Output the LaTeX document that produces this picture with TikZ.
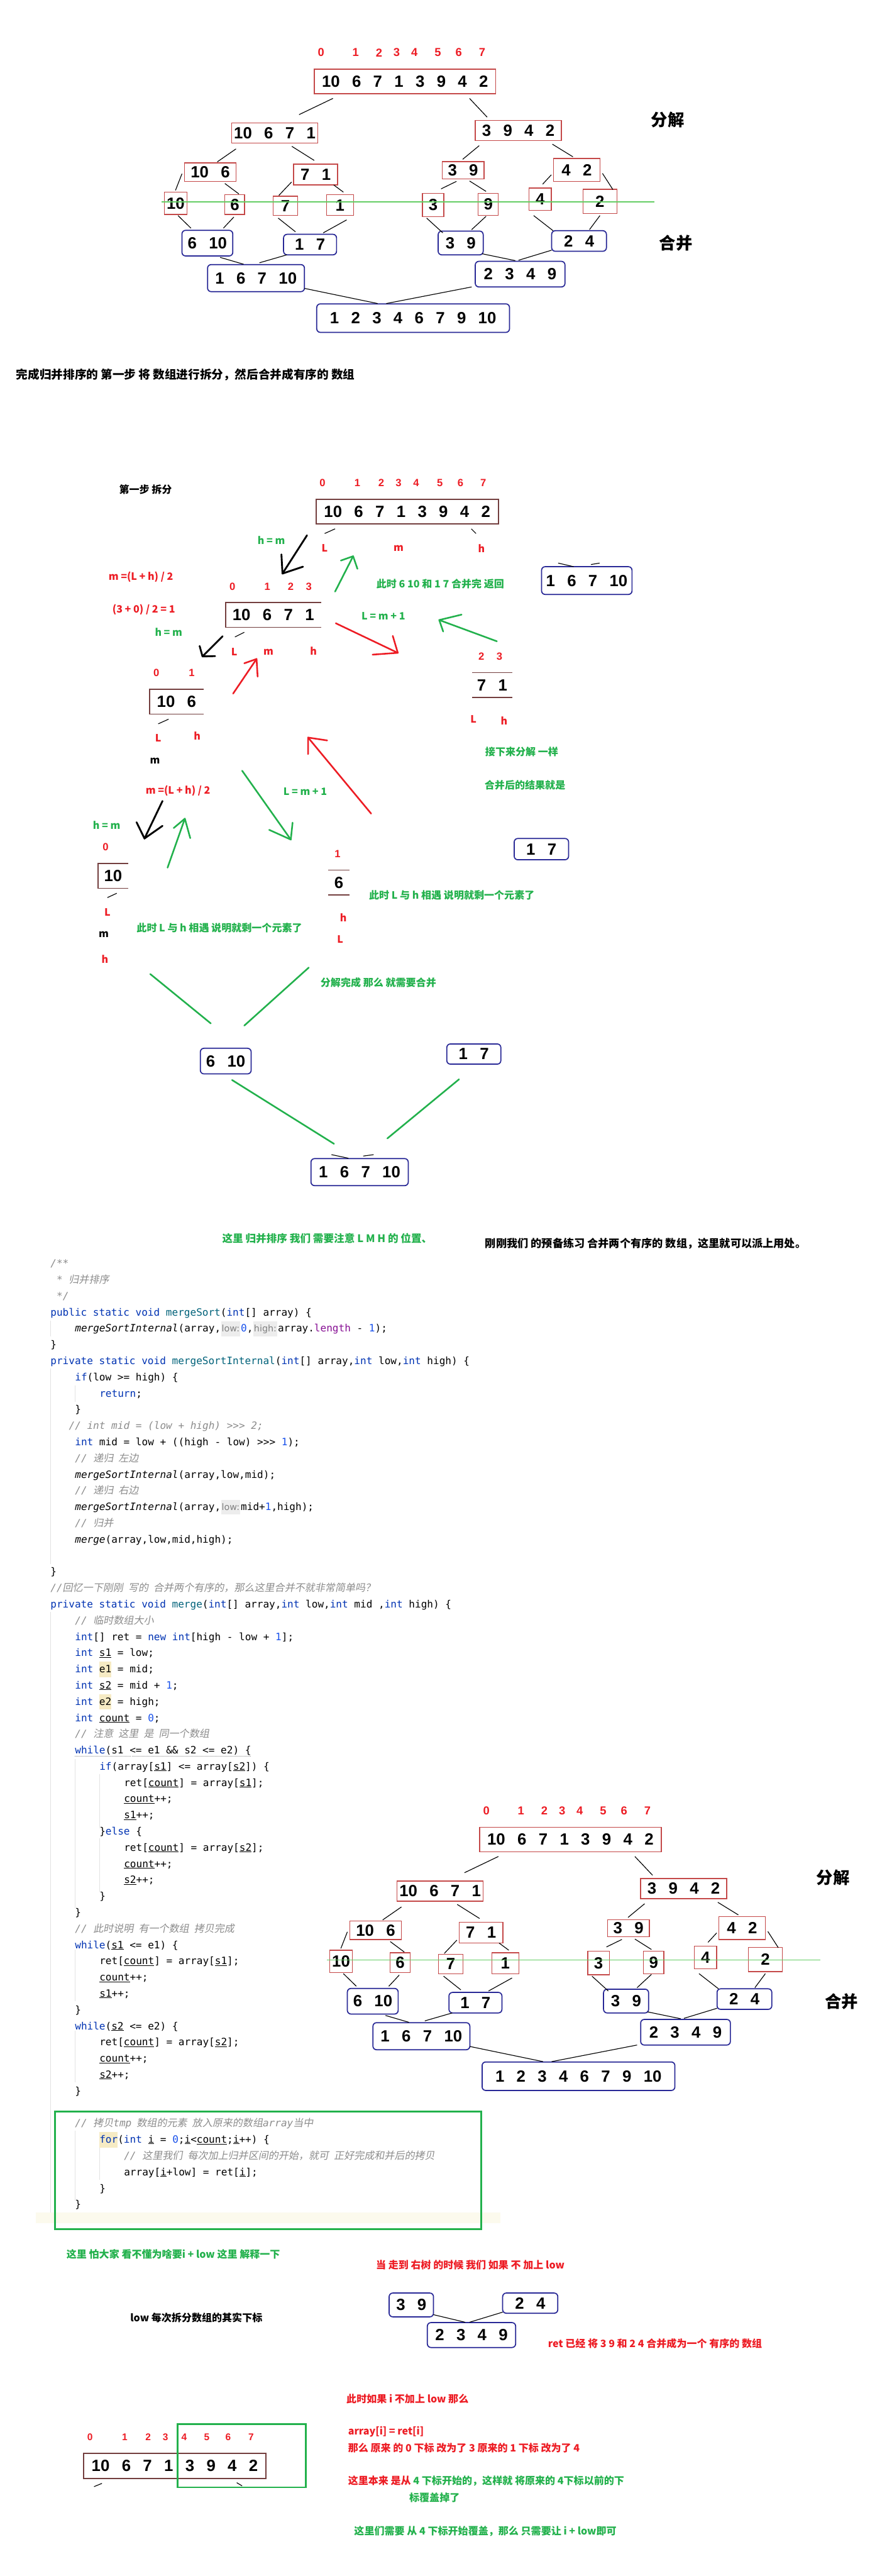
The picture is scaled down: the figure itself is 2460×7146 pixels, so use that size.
\documentclass[tikz,border=0pt]{standalone}
\usepackage{fontspec}
\setmainfont{Liberation Sans}
\setsansfont{Liberation Sans}
\newfontfamily\cjk{Noto Sans CJK SC}
\newfontfamily\cjkit{Noto Sans CJK SC}[FakeSlant=0.18]
\newfontfamily\mono{DejaVu Sans Mono}
\newfontfamily\hintfont{DejaVu Sans}
\usetikzlibrary{calc}
\definecolor{ared}{RGB}{237,28,36}
\definecolor{agreen}{RGB}{34,177,76}
\definecolor{treered}{RGB}{196,72,72}
\definecolor{treeblue}{RGB}{40,40,150}
\definecolor{cutbrown}{RGB}{115,62,62}
\definecolor{tgreen}{RGB}{100,205,100}
\definecolor{kwc}{HTML}{0033B3}
\definecolor{fnc}{HTML}{00627A}
\definecolor{numc}{HTML}{1750EB}
\definecolor{cmc}{HTML}{8C8C8C}
\definecolor{fldc}{HTML}{871094}
\definecolor{hintbg}{HTML}{EDEDED}
\definecolor{hintfg}{HTML}{7F7F7F}
\definecolor{hlc}{RGB}{246,235,196}
\definecolor{guide}{HTML}{E2E2E2}
\definecolor{cream}{HTML}{FCFAED}
\newcommand\Gp{\hspace{0.75em}}
\newcommand\Ann[1]{\cjk\bfseries\fontsize{#1}{#1}\selectfont}
\newcommand\NumF{\sffamily\bfseries\fontsize{45}{50}\selectfont}
\newcommand\IdxF[1]{\sffamily\bfseries\fontsize{#1}{#1}\selectfont}
\newcommand\CodeF{\mono\fontsize{28}{45}\selectfont}
\newcommand\Kw[1]{{\color{kwc}#1}}
\newcommand\Fn[1]{{\color{fnc}#1}}
\newcommand\Nm[1]{{\color{numc}#1}}
\newcommand\Fld[1]{{\color{fldc}#1}}
\newcommand\Ca[1]{{\itshape #1}}
\newcommand\Cm[1]{{\color{cmc}\itshape #1}}
\newcommand\Cj[1]{{\cjkit #1}}
\newcommand\Sp{\hspace{0.5em}}
\newcommand\Hint[1]{\hspace{1pt}{\setlength\fboxsep{1.5pt}\colorbox{hintbg}{\rule[-10pt]{0pt}{38pt}\hintfont\fontsize{25}{30}\selectfont\color{hintfg}#1}}\hspace{2pt}}
\newcommand\Hl[1]{{\setlength\fboxsep{0pt}\colorbox{hlc}{\rule[-12.5pt]{0pt}{43pt}#1}}}
\newcommand\Ul[1]{\underline{#1}}
\newcommand\Cy[1]{\the\numexpr3506+45*#1\relax}
\newcommand\Codeln[3]{\node[codeln] (c#1) at (#2,\Cy{#1}) {#3};}
\newcommand\Cn[4]{\draw[treeline] ([shift={#2}]#1.center) -- ([shift={#4}]#3.center);}
\tikzset{
 sz/.style 2 args={minimum width=#1pt, minimum height=#2pt},
 rbox/.style={draw=treered, line width=2.5pt, fill=white, inner sep=0pt, font=\NumF},
 bbox/.style={draw=treeblue, line width=3pt, rounded corners=10pt, fill=white, inner sep=0pt, font=\NumF},
 cutbox/.style={draw=cutbrown, line width=3pt, fill=white, inner sep=0pt, font=\NumF},
 cutn/.style={inner sep=0pt, font=\NumF},
 cutline/.style={draw=cutbrown, line width=3pt},
 treeline/.style={line width=2pt, black},
 tgline/.style={line width=3pt, tgreen},
 idxT/.style={text=ared, font=\IdxF{32}, inner sep=0pt},
 idxS/.style={text=ared, font=\IdxF{29}, inner sep=0pt},
 annR/.style={text=ared, font=\Ann{28}, inner sep=0pt},
 annG/.style={text=agreen, font=\Ann{28}, inner sep=0pt},
 annK/.style={text=black, font=\Ann{28}, inner sep=0pt},
 bigK/.style={text=black, font=\Ann{46}, inner sep=0pt},
 arrK/.style={line width=5pt, black, line cap=round, line join=round},
 arrR/.style={line width=4.5pt, ared, line cap=round, line join=round},
 arrG/.style={line width=4.5pt, agreen, line cap=round, line join=round},
 tick/.style={line width=2pt, black},
 codeln/.style={anchor=west, inner sep=0pt, font=\CodeF, execute at begin node=\strut},
 gline/.style={line width=1.5pt, guide},
}
\newcommand\mergetree{%
 \foreach \xx/\ii in {891/0,987/1,1052/2,1101/3,1150/4,1215/5,1273/6,1338/7}{\node[idxT] (i\ii) at (\xx,146) {\ii};}
 \node[rbox, sz={504}{68}] (root) at (1124,226) {10\Gp 6\Gp 7\Gp 1\Gp 3\Gp 9\Gp 4\Gp 2};
 \node[rbox, sz={239}{56}] (n10671) at (762.5,369) {10\Gp 6\Gp 7\Gp 1};
 \node[rbox, sz={239}{56}] (n3942) at (1438.5,362) {3\Gp 9\Gp 4\Gp 2};
 \node[rbox, sz={143}{51}] (n106) at (583.5,477.5) {10\Gp 6};
 \node[rbox, sz={122}{58}] (n71) at (876,484) {7\Gp 1};
 \node[rbox, sz={116}{48}] (n39) at (1285,472) {3\Gp 9};
 \node[rbox, sz={129}{63}] (n42) at (1600.5,471.5) {4\Gp 2};
 \node[rbox, sz={63}{62}] (l10) at (487.5,564) {10};
 \node[rbox, sz={55}{55}] (l6) at (651.5,567.5) {6};
 \node[rbox, sz={68}{54}] (l7) at (792,571) {7};
 \node[rbox, sz={75}{58}] (l1) at (943.5,569) {1};
 \node[rbox, sz={60}{65}] (l3) at (1202,568.5) {3};
 \node[rbox, sz={56}{62}] (l9) at (1355,567) {9};
 \node[rbox, sz={62}{62}] (l4) at (1499,553) {4};
 \node[rbox, sz={94}{67}] (l2) at (1665,558.5) {2};
 \node[bbox, sz={141}{71}] (m610) at (575.5,674.5) {6\Gp 10};
 \node[bbox, sz={147}{57}] (m17) at (860.5,678.5) {1\Gp 7};
 \node[bbox, sz={125}{66}] (m39) at (1278.5,674) {3\Gp 9};
 \node[bbox, sz={152}{57}] (m24) at (1607,668.5) {2\Gp 4};
 \node[bbox, sz={269}{75}] (m16710) at (710.5,771.5) {1\Gp 6\Gp 7\Gp 10};
 \node[bbox, sz={249}{71}] (m2349) at (1443.5,760.5) {2\Gp 3\Gp 4\Gp 9};
 \node[bbox, sz={535}{79}] (final) at (1146.5,882.5) {1\Gp 2\Gp 3\Gp 4\Gp 6\Gp 7\Gp 9\Gp 10};
 \node[bigK] (fj) at (1853,332) {分解};
 \node[bigK] (hb) at (1876,675) {合并};
 \Cn{root}{(-200,47)}{n10671}{(67.5,-51)}
 \Cn{root}{(179,47)}{n3942}{(-86.5,-37)}
 \Cn{n10671}{(-107.5,44)}{n106}{(19.5,-28.5)}
 \Cn{n10671}{(47.5,37)}{n71}{(-4,-39)}
 \Cn{n3942}{(-108.5,42)}{n39}{(-1,-30)}
 \Cn{n3942}{(94.5,38)}{n42}{(-10.5,-36.5)}
 \Cn{n106}{(-78.5,4.5)}{l10}{(-0.5,-36)}
 \Cn{n106}{(40.5,31.5)}{l6}{(11.5,-29.5)}
 \Cn{n71}{(-67,21)}{l7}{(-18,-29)}
 \Cn{n71}{(50,29)}{l1}{(9.5,-36)}
 \Cn{n39}{(-18,31)}{l3}{(22,-44.5)}
 \Cn{n39}{(18,30)}{l9}{(-6,-36)}
 \Cn{n42}{(-70.5,13.5)}{l4}{(7,-42)}
 \Cn{n42}{(71.5,9.5)}{l2}{(36,-32.5)}
 \Cn{l10}{(6.5,34)}{m610}{(-45.5,-41.5)}
 \Cn{l6}{(-2.5,34.5)}{m610}{(44.5,-41.5)}
 \Cn{l7}{(-20,34)}{m17}{(-40.5,-35.5)}
 \Cn{l1}{(18.5,41)}{m17}{(36.5,-32.5)}
 \Cn{l3}{(-18,36.5)}{m39}{(-49.5,-28)}
 \Cn{l9}{(-6,33)}{m39}{(30.5,-37)}
 \Cn{l4}{(-18,45)}{m24}{(-72,-28.5)}
 \Cn{l2}{(0,39.5)}{m24}{(29,-31.5)}
 \Cn{m610}{(35.5,39.5)}{m16710}{(-34.5,-38.5)}
 \Cn{m17}{(-64.5,28.5)}{m16710}{(9.5,-42.5)}
 \Cn{m39}{(59.5,30)}{m2349}{(-13.5,-37.5)}
 \Cn{m24}{(-76,25.5)}{m2349}{(-4.5,-38.5)}
 \Cn{m16710}{(134.5,28.5)}{final}{(-98.5,-40.5)}
 \Cn{m2349}{(-134.5,35.5)}{final}{(-74.5,-40.5)}
 \draw[tgline] (449,560) -- (1817,560);
}
\begin{document}
\begin{tikzpicture}[x=1pt,y=-1pt]
\useasboundingbox (0,0) rectangle (2460,7146);
\fill[white] (0,0) rectangle (2460,7146);

% ---------- top tree ----------
\begin{scope}[name prefix=A-]\mergetree\end{scope}
\node[annK, font=\Ann{32.5}] (intro) at (515,1039) {完成归并排序的 第一步 将 数组进行拆分，然后合并成有序的 数组};

% ---------- step one ----------
\node[annK] (step1) at (404,1358) {第一步 拆分};
\foreach \xx/\ii in {895/0,992/1,1058/2,1106/3,1155/4,1221/5,1278/6,1341/7}{\node[idxS] (sa\ii) at (\xx,1340) {\ii};}
\node[cutbox, sz={506}{68}] (s2root) at (1130,1419) {10\Gp 6\Gp 7\Gp 1\Gp 3\Gp 9\Gp 4\Gp 2};
\draw[tick] ([shift={(-200,48)}]s2root.center) -- ([shift={(-229,61)}]s2root.center);
\draw[tick] ([shift={(178,48)}]s2root.center) -- ([shift={(191,61)}]s2root.center);
\node[annG] (hm1) at (753,1499) {h = m};
\node[annR] (L1) at (901,1521) {L};
\node[annR] (m1) at (1106,1521) {m};
\node[annR] (h1) at (1336,1521) {h};
\draw[arrK] (852,1485) -- (784,1591);
\draw[arrK] (781,1538) -- (784,1591) -- (841,1572);
\draw[arrG] (930,1641) -- (980,1543);
\draw[arrG] (946,1555) -- (980,1543) -- (992,1578);
\node[annR] (f1) at (391,1600) {m =(L + h) / 2};
\foreach \xx/\ii in {645/0,742/1,807/2,857/3}{\node[idxS] (sb\ii) at (\xx,1627) {\ii};}
\node[annG] (ret1) at (1222,1619) {此时 6 10 和 1 7 合并完 返回};
\node[bbox, sz={251}{77}] (s2b16710) at (1628.5,1610.5) {1\Gp 6\Gp 7\Gp 10};
\draw[tick] ([shift={(-79.5,-48.5)}]s2b16710.center) -- ([shift={(-36.5,-38.5)}]s2b16710.center);
\draw[tick] ([shift={(11.5,-44.5)}]s2b16710.center) -- ([shift={(35.5,-48.5)}]s2b16710.center);
\node[annR] (f2) at (399,1691) {(3 + 0) / 2 = 1};
\node[cutn, sz={265}{68}] (s2r10671) at (758.5,1706) {10\Gp 6\Gp 7\Gp 1};
\draw[cutline] (s2r10671.north east) -- (s2r10671.north west) -- (s2r10671.south west) -- (s2r10671.south east);
\node[annG] (lm1) at (1064,1709) {L = m + 1};
\draw[arrR] (932,1729) -- (1104,1811);
\draw[arrR] (1090,1764) -- (1104,1811) -- (1034,1816);
\draw[arrG] (1379,1779) -- (1219,1720);
\draw[arrG] (1281,1705) -- (1219,1720) -- (1230,1752);
\node[annG] (hm2) at (468,1753) {h = m};
\draw[tick] ([shift={(-80.5,48)}]s2r10671.center) -- ([shift={(-106.5,61)}]s2r10671.center);
\draw[arrK] (618,1765) -- (562,1821);
\draw[arrK] (554,1792) -- (562,1821) -- (597,1820);
\node[annR] (L2) at (650,1808) {L};
\node[annR] (m2) at (745,1809) {m};
\node[annR] (h2) at (870,1805) {h};
\draw[arrR] (647,1924) -- (712,1828);
\draw[arrR] (678,1840) -- (712,1828) -- (715,1877);
\node[idxS] (sc2) at (1336,1821) {2};
\node[idxS] (sc3) at (1386,1821) {3};
\node[cutn, sz={112}{69}] (s2r71) at (1366,1900.5) {7\Gp 1};
\draw[cutline] (s2r71.north west) -- (s2r71.north east);
\draw[cutline] (s2r71.south west) -- (s2r71.south east);
\node[idxS] (sd0) at (434,1867) {0};
\node[idxS] (sd1) at (532,1867) {1};
\node[cutn, sz={150}{69}] (s2r106) at (490,1946.5) {10\Gp 6};
\draw[cutline] (s2r106.north east) -- (s2r106.north west) -- (s2r106.south west) -- (s2r106.south east);
\draw[tick] ([shift={(-22,48.5)}]s2r106.center) -- ([shift={(-51,61.5)}]s2r106.center);
\node[annR] (L3) at (439,2048) {L};
\node[annR] (h3) at (547,2042) {h};
\node[annK, font=\Ann{28}] (m3) at (430,2111) {m};
\node[annR] (L4) at (1314,1995) {L};
\node[annR] (h4) at (1399,1999) {h};
\draw[arrR] (1030,2257) -- (855,2046);
\draw[arrR] (855,2092) -- (855,2046) -- (908,2054);
\node[annG] (next1) at (1448,2086) {接下来分解 一样};
\node[annG] (next2) at (1457,2178) {合并后的结果就是};
\node[annR] (f3) at (494,2193) {m =(L + h) / 2};
\node[annG] (lm2) at (847,2196) {L = m + 1};
\draw[arrG] (672,2138) -- (807,2329);
\draw[arrG] (747,2302) -- (807,2329) -- (812,2282);
\draw[arrK] (451,2222) -- (401,2326);
\draw[arrK] (379,2281) -- (401,2326) -- (451,2291);
\draw[arrG] (465,2407) -- (513,2271);
\draw[arrG] (482,2297) -- (513,2271) -- (528,2325);
\node[annG] (hm3) at (296,2289) {h = m};
\node[idxS] (se0) at (293,2350) {0};
\node[cutn, sz={84}{69}] (s2r10) at (314,2429.5) {10};
\draw[cutline] (s2r10.north east) -- (s2r10.north west) -- (s2r10.south west) -- (s2r10.south east);
\draw[tick] ([shift={(10,48.5)}]s2r10.center) -- ([shift={(-16,60.5)}]s2r10.center);
\node[annR] (L5) at (298,2530) {L};
\node[annK, font=\Ann{28}] (m5) at (288,2593) {m};
\node[annR] (h5) at (291,2660) {h};
\node[idxS] (sf1) at (937,2369) {1};
\node[cutn, sz={59}{69}] (s2r6) at (940.5,2448.5) {6};
\draw[cutline] (s2r6.north west) -- (s2r6.north east);
\draw[cutline] (s2r6.south west) -- (s2r6.south east);
\node[annG] (meet1) at (1254,2484) {此时 L 与 h 相遇 说明就剩一个元素了};
\node[annR] (h6) at (953,2545) {h};
\node[annR] (L6) at (944,2605) {L};
\node[annG] (meet2) at (609,2574) {此时 L 与 h 相遇 说明就剩一个元素了};
\node[bbox, sz={151}{59}] (s2b17) at (1502.5,2355.5) {1\Gp 7};
\node[annG] (done) at (1050,2726) {分解完成 那么 就需要合并};
\node[bbox, sz={141}{71}] (s2b610) at (626.5,2943.5) {6\Gp 10};
\node[bbox, sz={150}{56}] (s2b17b) at (1315,2924) {1\Gp 7};
\node[bbox, sz={270}{75}] (s2b16710b) at (998,3251.5) {1\Gp 6\Gp 7\Gp 10};
\draw[arrG] ([shift={(103,272.5)}]s2r10.center) -- ([shift={(-41.5,-104.5)}]s2b610.center);
\draw[arrG] ([shift={(-83.5,235.5)}]s2r6.center) -- ([shift={(51.5,-98.5)}]s2b610.center);
\draw[arrG] ([shift={(17.5,52.5)}]s2b610.center) -- ([shift={(-71,-78.5)}]s2b16710b.center);
\draw[arrG] ([shift={(-41,70)}]s2b17b.center) -- ([shift={(77,-93.5)}]s2b16710b.center);
\draw[tick] ([shift={(-78,-48.5)}]s2b16710b.center) -- ([shift={(-31,-38.5)}]s2b16710b.center);
\draw[tick] ([shift={(10,-44.5)}]s2b16710b.center) -- ([shift={(39,-48.5)}]s2b16710b.center);

% ---------- section 3 notes ----------
\node[annG, font=\Ann{29}] (lmhnote) at (908,3435) {这里 归并排序 我们 需要注意 L M H 的 位置、};
\node[annK, font=\Ann{30}] (prevnote) at (1792,3449) {刚刚我们 的预备练习 合并两个有序的 数组，这里就可以派上用处。};

% ---------- code ----------
\fill[cream] (100,6137) rectangle (1388,6168);
\draw[gline] (141,3663) -- (141,3707);
\draw[gline] (141,3797) -- (141,4338);
\draw[gline] (209,3843) -- (209,3888);
\draw[gline] (141,4471) -- (141,6138);
\draw[gline] (209,4880) -- (209,5294);
\draw[gline] (277,4921) -- (277,5071);
\draw[gline] (277,5100) -- (277,5250);
\draw[gline] (209,5409) -- (209,5552);
\draw[gline] (209,5633) -- (209,5776);
\draw[gline] (209,5910) -- (209,6104);
\draw[gline] (277,5954) -- (277,6046);
\Codeln{0}{140}{\Cm{/**}}
\Codeln{1}{157}{\Cm{* \Cj{归并排序}}}
\Codeln{2}{157}{\Cm{*/}}
\Codeln{3}{140}{\Kw{public static void} \Fn{mergeSort}(\Kw{int}[] array) \{}
\Codeln{4}{208}{\Ca{mergeSortInternal}(array,\Hint{low:}\Nm{0},\Hint{high:}array.\Fld{length} - \Nm{1});}
\Codeln{5}{140}{\}}
\Codeln{6}{140}{\Kw{private static void} \Fn{mergeSortInternal}(\Kw{int}[] array,\Kw{int} low,\Kw{int} high) \{}
\Codeln{7}{208}{\Kw{if}(low >= high) \{}
\Codeln{8}{276}{\Kw{return};}
\Codeln{9}{208}{\}}
\Codeln{10}{191}{\Cm{// int mid = (low + high) >>> 2;}}
\Codeln{11}{208}{\Kw{int} mid = low + ((high - low) >>> \Nm{1});}
\Codeln{12}{208}{\Cm{// \Cj{递归\Sp 左边}}}
\Codeln{13}{208}{\Ca{mergeSortInternal}(array,low,mid);}
\Codeln{14}{208}{\Cm{// \Cj{递归\Sp 右边}}}
\Codeln{15}{208}{\Ca{mergeSortInternal}(array,\Hint{low:}mid+\Nm{1},high);}
\Codeln{16}{208}{\Cm{// \Cj{归并}}}
\Codeln{17}{208}{\Ca{merge}(array,low,mid,high);}
\Codeln{19}{140}{\}}
\Codeln{20}{140}{\Cm{//\Cj{回忆一下刚刚\Sp 写的\Sp 合并两个有序的，那么这里合并不就非常简单吗？}}}
\Codeln{21}{140}{\Kw{private static void} \Fn{merge}(\Kw{int}[] array,\Kw{int} low,\Kw{int} mid ,\Kw{int} high) \{}
\Codeln{22}{208}{\Cm{// \Cj{临时数组大小}}}
\Codeln{23}{208}{\Kw{int}[] ret = \Kw{new} \Kw{int}[high - low + \Nm{1}];}
\Codeln{24}{208}{\Kw{int} \Ul{s1} = low;}
\Codeln{25}{208}{\Kw{int} \Hl{e1} = mid;}
\Codeln{26}{208}{\Kw{int} \Ul{s2} = mid + \Nm{1};}
\Codeln{27}{208}{\Kw{int} \Hl{e2} = high;}
\Codeln{28}{208}{\Kw{int} \Ul{count} = \Nm{0};}
\Codeln{29}{208}{\Cm{// \Cj{注意\Sp 这里\Sp 是\Sp 同一个数组}}}
\Codeln{30}{208}{\Kw{while}(s1 <= e1 \&\& s2 <= e2) \{}
\draw[cmc, dotted, line width=1.5pt] (208,4872) -- (698,4872);
\Codeln{31}{276}{\Kw{if}(array[\Ul{s1}] <= array[\Ul{s2}]) \{}
\Codeln{32}{344}{ret[\Ul{count}] = array[\Ul{s1}];}
\Codeln{33}{344}{\Ul{count}++;}
\Codeln{34}{344}{\Ul{s1}++;}
\Codeln{35}{276}{\}\Kw{else} \{}
\Codeln{36}{344}{ret[\Ul{count}] = array[\Ul{s2}];}
\Codeln{37}{344}{\Ul{count}++;}
\Codeln{38}{344}{\Ul{s2}++;}
\Codeln{39}{276}{\}}
\Codeln{40}{208}{\}}
\Codeln{41}{208}{\Cm{// \Cj{此时说明\Sp 有一个数组\Sp 拷贝完成}}}
\Codeln{42}{208}{\Kw{while}(\Ul{s1} <= e1) \{}
\Codeln{43}{276}{ret[\Ul{count}] = array[\Ul{s1}];}
\Codeln{44}{276}{\Ul{count}++;}
\Codeln{45}{276}{\Ul{s1}++;}
\Codeln{46}{208}{\}}
\Codeln{47}{208}{\Kw{while}(\Ul{s2} <= e2) \{}
\Codeln{48}{276}{ret[\Ul{count}] = array[\Ul{s2}];}
\Codeln{49}{276}{\Ul{count}++;}
\Codeln{50}{276}{\Ul{s2}++;}
\Codeln{51}{208}{\}}
\Codeln{53}{208}{\Cm{// \Cj{拷贝}tmp\Sp\Cj{数组的元素\Sp 放入原来的数组}array\Cj{当中}}}
\Codeln{54}{276}{\Hl{\Kw{for}}(\Kw{int} \Ul{i} = \Nm{0};\Ul{i}<\Ul{count};\Ul{i}++) \{}
\Codeln{55}{344}{\Cm{// \Cj{这里我们\Sp 每次加上归并区间的开始，就可\Sp 正好完成和并后的拷贝}}}
\Codeln{56}{344}{array[\Ul{i}+low] = ret[\Ul{i}];}
\Codeln{57}{276}{\}}
\Codeln{58}{208}{\}}
\draw[agreen, line width=5pt] (152,5858) rectangle (1336,6184);

% ---------- second tree ----------
\begin{scope}[shift={(459,4877)}, name prefix=B-]\mergetree\end{scope}

% ---------- explanation of i + low ----------
\node[annG] (why) at (481,6253) {这里 怕大家 看不懂为啥要i + low 这里 解释一下};
\node[annR] (right) at (1305,6283) {当 走到 右树 的时候 我们 如果 不 加上 low};
\node[bbox, sz={123}{66}] (b39) at (1141.5,6394) {3\Gp 9};
\node[bbox, sz={153}{56}] (b24) at (1471.5,6389) {2\Gp 4};
\node[bbox, sz={245}{69}] (b2349) at (1308.5,6477.5) {2\Gp 3\Gp 4\Gp 9};
\Cn{b39}{(61.5,27)}{b2349}{(-17.5,-35.5)}
\Cn{b24}{(-76.5,25)}{b2349}{(-5.5,-35.5)}
\node[annK] (lownote) at (545,6430) {low 每次拆分数组的其实下标};
\node[annR] (retnote) at (1818,6501) {ret 已经 将 3 9 和 2 4 合并成为一个 有序的 数组};
\node[annR] (ifnot) at (1131,6654) {此时如果 i 不加上 low 那么};
\node[annR, anchor=west] (eq) at (966,6746) {array[i] = ret[i]};
\node[annR, anchor=west] (chg) at (966,6791) {那么 原来 的 0 下标 改为了 3 原来的 1 下标 改为了 4};
\node[annG, anchor=west] (cover1) at (966,6883) {{\color{ared}这里本来 是从} 4 下标开始的，这样就 将原来的 4下标以前的下};
\node[annG] (cover2) at (1206,6929) {标覆盖掉了};
\node[annG] (cover3) at (1347,7021) {这里们需要 从 4 下标开始覆盖，那么 只需要让 i + low即可};
\foreach \xx/\ii in {250/0,346/1,411/2,459/3,511/4,574/5,633/6,697/7}{\node[idxS, font=\IdxF{27}] (bi\ii) at (\xx,6761) {\ii};}
\node[cutbox, sz={506}{69}] (barr) at (485,6840.5) {10\Gp 6\Gp 7\Gp 1\Gp 3\Gp 9\Gp 4\Gp 2};
\draw[tick] ([shift={(-202,48.5)}]barr.center) -- ([shift={(-224,57.5)}]barr.center);
\draw[tick] ([shift={(172,46.5)}]barr.center) -- ([shift={(187,55.5)}]barr.center);
\draw[agreen, line width=5pt] (493,6724) rectangle (848,6900);
\end{tikzpicture}
\end{document}
